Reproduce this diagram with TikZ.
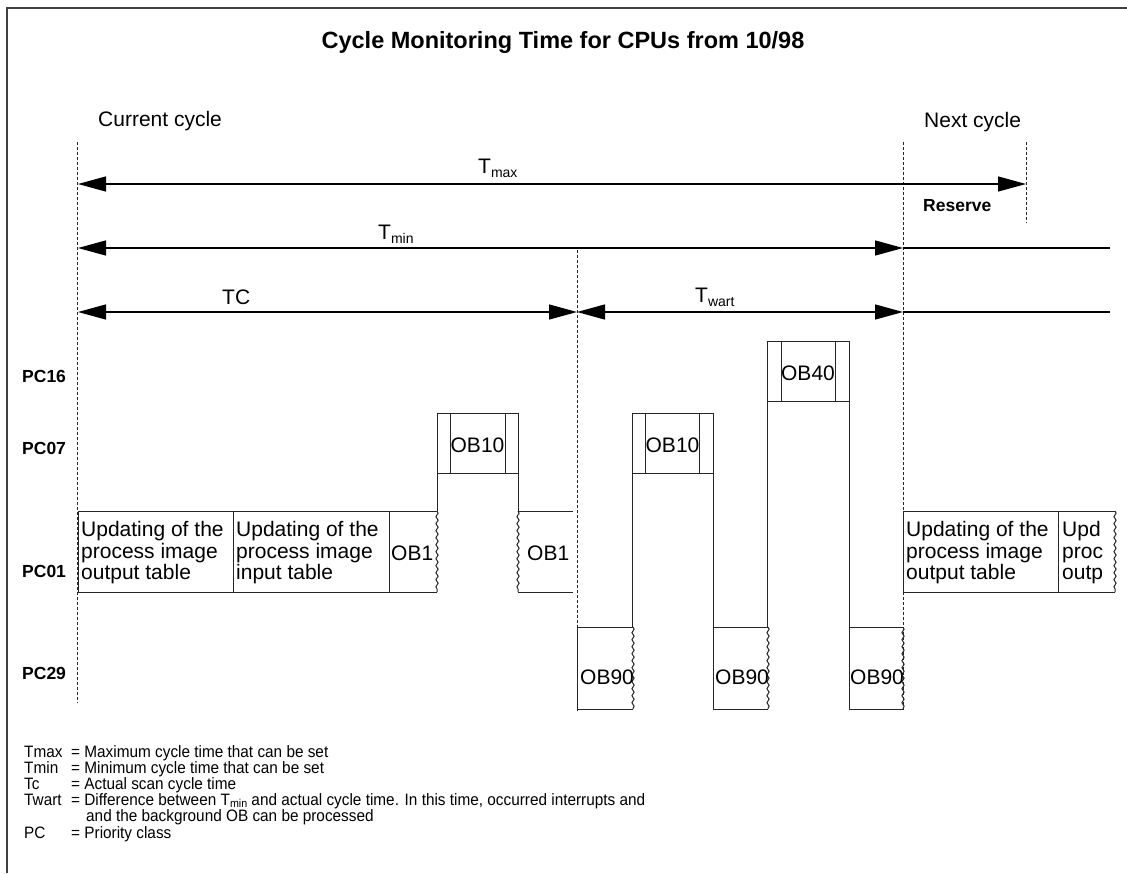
\documentclass[tikz,border=0pt]{standalone}
\usepackage{fontspec}
\setmainfont{Liberation Sans}
\newfontfamily\narrowfont[FakeStretch=0.93]{Liberation Sans}
\usetikzlibrary{arrows.meta,decorations.pathmorphing}
\newcommand{\lowsub}[1]{\raisebox{-0.35ex}{\fontsize{14}{14}\selectfont #1}}
\newcommand{\legsub}[1]{\raisebox{-0.25ex}{\fontsize{11.5}{11.5}\selectfont #1}}
\begin{document}
\begin{tikzpicture}[x=1pt,y=-1pt,
  dim/.style={line width=1.3pt, {Triangle[length=28pt,width=15pt]}-{Triangle[length=28pt,width=15pt]}},
  plainline/.style={line width=1.3pt},
  guide/.style={line width=0.9pt, dash pattern=on 3pt off 2pt, black!85},
  boxline/.style={line width=1pt, black!85},
  wavy/.style={boxline, decorate, decoration={snake, amplitude=1.1pt, segment length=7pt}},
  txt/.style={font=\fontsize{21}{21.5}\selectfont, inner sep=0pt},
  pclab/.style={font=\fontsize{17.5}{18}\selectfont\bfseries, inner sep=0pt, anchor=west},
  leg/.style={font=\narrowfont\fontsize{16.5}{16.5}\selectfont, inner sep=0pt, anchor=base west},
  frame/.style={line width=1.3pt, black!75}
]
\useasboundingbox (0,0) rectangle (1127,873);
% frame
\draw[frame] (7,873) -- (7,8) -- (1127,8);

% title
\node[font=\fontsize{23.5}{24}\selectfont\bfseries, inner sep=0pt] (title) at (563,42) {Cycle Monitoring Time for CPUs from 10/98};
\node[txt, anchor=west] (cur) at (98,121) {Current cycle};
\node[txt, anchor=west] (next) at (924,122) {Next cycle};

% guide coordinates
\coordinate (g1t) at (77,142);  \coordinate (g1b) at (77,703);
\coordinate (g2t) at (577,250); \coordinate (g2b) at (577,711);
\coordinate (g3t) at (903,142); \coordinate (g3b) at (903,711);
\coordinate (g4t) at (1026,142); \coordinate (g4b) at (1026,223);
\draw[guide] (g1t) -- (g1b);
\draw[guide] (g2t) -- (g2b);
\draw[guide] (g3t) -- (g3b);
\draw[guide] (g4t) -- (g4b);

% Tmax
\coordinate (maxL) at (78,184); \coordinate (maxR) at (1026,184);
\draw[dim] (maxL) -- (maxR);
\node[txt, anchor=west] (tmax) at (478,168) {T\lowsub{max}};
\node[font=\fontsize{17.5}{18}\selectfont\bfseries, inner sep=0pt, anchor=west] (res) at (923,206) {Reserve};

% Tmin
\coordinate (minL) at (78,248); \coordinate (minR) at (903,248); \coordinate (minE) at (1110,248);
\draw[dim] (minL) -- (minR);
\draw[plainline] (minR) -- (minE);
\node[txt, anchor=west] (tmin) at (378,234) {T\lowsub{min}};

% TC / Twart
\coordinate (tcL) at (78,312); \coordinate (tcM) at (577,312); \coordinate (tcR) at (903,312); \coordinate (tcE) at (1110,312);
\draw[dim] (tcL) -- (tcM);
\draw[dim] (tcM) -- (tcR);
\draw[plainline] (tcR) -- (tcE);
\node[txt, anchor=west] (tc) at (222,297) {TC};
\node[txt, anchor=west] (twart) at (695,297) {T\lowsub{wart}};

% priority class labels
\node[pclab] (pc16) at (22,376) {PC16};
\node[pclab] (pc07) at (22,448) {PC07};
\node[pclab] (pc01) at (22,571) {PC01};
\node[pclab] (pc29) at (22,673) {PC29};

% PC01 boxes (current cycle)
\draw[boxline] (78,511) rectangle (233,592);
\node[txt, align=left, anchor=west] (upo1) at (81,553) {Updating of the\\process image\\output table};
\draw[boxline] (233,511) rectangle (389,592);
\node[txt, align=left, anchor=west] (upi1) at (236,553) {Updating of the\\process image\\input table};
\draw[boxline] (437,511) -- (389,511) -- (389,592) -- (437,592);
\draw[wavy] (437,511) -- (437,592);
\node[txt, anchor=west] (ob1a) at (391,553) {OB1};

% OB10 first
\draw[boxline] (437,413) rectangle (518,473);
\draw[boxline] (450,413) -- (450,473);
\draw[boxline] (505,413) -- (505,473);
\node[txt] (ob10a) at (477.5,445) {OB10};
\draw[boxline] (437,473) -- (437,511);
\draw[boxline] (518,473) -- (518,511);

% OB1 continued
\draw[wavy] (518,511) -- (518,592);
\draw[boxline] (518,511) -- (573,511);
\draw[boxline] (518,592) -- (573,592);
\node[txt, anchor=west] (ob1b) at (527,553) {OB1};

% OB90 first
\draw[boxline] (633,627) -- (577,627) -- (577,709) -- (633,709);
\draw[wavy] (633,627) -- (633,709);
\node[txt, anchor=west] (ob90a) at (580,677) {OB90};

% OB10 second
\draw[boxline] (632,413) rectangle (713,473);
\draw[boxline] (645,413) -- (645,473);
\draw[boxline] (699,413) -- (699,473);
\node[txt] (ob10b) at (672.5,445) {OB10};
\draw[boxline] (632,473) -- (632,627);
\draw[boxline] (713,473) -- (713,627);

% OB90 second
\draw[boxline] (768,627) -- (713,627) -- (713,709) -- (768,709);
\draw[wavy] (768,627) -- (768,709);
\node[txt, anchor=west] (ob90b) at (715,677) {OB90};

% OB40
\draw[boxline] (767,341) rectangle (849,401);
\draw[boxline] (781,341) -- (781,401);
\draw[boxline] (835,341) -- (835,401);
\node[txt] (ob40) at (808,373) {OB40};
\draw[boxline] (767,401) -- (767,627);
\draw[boxline] (849,401) -- (849,627);

% OB90 third
\draw[boxline] (903,627) -- (849,627) -- (849,709) -- (903,709);
\draw[wavy] (903,627) -- (903,709);
\node[txt, anchor=west] (ob90c) at (850,677) {OB90};

% next cycle PC01 boxes
\draw[boxline] (903,511) rectangle (1058,592);
\node[txt, align=left, anchor=west] (upo2) at (906,553) {Updating of the\\process image\\output table};
\draw[boxline] (1115,511) -- (1058,511) -- (1058,592) -- (1115,592);
\draw[wavy] (1115,511) -- (1115,592);
\node[txt, align=left, anchor=west] (upd2) at (1062,553) {Upd\\proc\\outp};

% legend
\node[leg] (l1a) at (24,757) {Tmax};
\node[leg] (l1b) at (71,757) {= Maximum cycle time that can be set};
\node[leg] (l2a) at (24,773) {Tmin};
\node[leg] (l2b) at (71,773) {= Minimum cycle time that can be set};
\node[leg] (l3a) at (24,789) {Tc};
\node[leg] (l3b) at (71,789) {= Actual scan cycle time};
\node[leg] (l4a) at (24,805) {Twart};
\node[leg] (l4b) at (71,805) {= Difference between T\legsub{min} and actual cycle time. In this time, occurred interrupts and};
\node[leg] (l5b) at (86,821) {and the background OB can be processed};
\node[leg] (l6a) at (24,838) {PC};
\node[leg] (l6b) at (71,838) {= Priority class};
\end{tikzpicture}
\end{document}
